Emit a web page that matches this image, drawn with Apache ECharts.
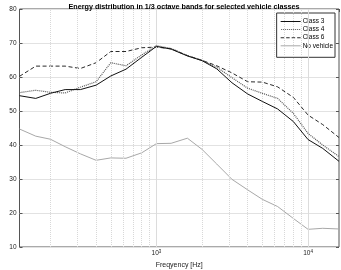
<!DOCTYPE html>
<html>
<head>
<meta charset="utf-8">
<script src="https://cdn.jsdelivr.net/npm/echarts@6/dist/echarts.min.js"></script>
<style>html,body{margin:0;padding:0;background:#fff}#c{width:341px;height:270px}</style>
</head>
<body>
<div id="c"></div>
<script>
const freqs = [125,160,200,250,315,400,500,630,800,1000,1250,1600,2000,2500,3150,4000,5000,6300,8000,10000,12500,16000];
const class3 = [54.5,53.7,55.2,56.3,56.3,57.6,60.3,62.3,65.8,69.0,68.2,66.2,64.8,62.4,58.3,55.0,52.8,50.6,46.9,41.6,39.0,35.2];
const class4 = [55.4,56.1,55.5,55.3,57.0,58.6,64.2,63.3,66.5,69.2,68.4,66.3,64.9,62.9,59.8,56.7,55.2,53.7,49.3,43.4,40.0,36.6];
const class6 = [60.2,63.2,63.2,63.2,62.5,64.2,67.5,67.5,68.6,68.8,68.3,66.3,64.9,63.3,61.2,58.6,58.5,57.1,54.0,48.8,46.0,42.2];
const noVehicle = [44.7,42.6,41.7,39.5,37.4,35.5,36.2,36.1,37.7,40.4,40.5,42.0,38.7,34.4,29.9,26.8,24.0,21.9,18.4,15.2,15.5,15.3];
const minorGrid = [200,300,400,500,600,700,800,900,2000,3000,4000,5000,6000,7000,8000,9000];
const majorGrid = [1000,10000];
const xTickLabels = {1000:'{a|10}{s|3}', 10000:'{a|10}{s|4}'};

const pair = arr => freqs.map((f,i)=>[f,arr[i]]);
const chart = echarts.init(document.getElementById('c'), null, {renderer:'canvas'});
const font = 'Liberation Sans, Arial, sans-serif';
// legend icon shapes (dotted / dashed line samples)
let dots = ''; for (let i = 0; i < 20; i += 2) dots += `M${i},0L${i+1},0L${i+1},1L${i},1Z`;
let dashes = ''; for (let i = 0; i < 20; i += 5.5) dashes += `M${i},0L${Math.min(i+3.5,20)},0L${Math.min(i+3.5,20)},1L${i},1Z`;
chart.setOption({
  animation:false,
  backgroundColor:'#fff',
  title:{text:'Energy distribution in 1/3 octave bands for selected vehicle classes',
    left:179, top:-1, textAlign:'center',
    textStyle:{fontFamily:font, fontSize:7.2, fontWeight:'bold', color:'#000'}},
  grid:{left:19.5, right:2, top:9, bottom:23, containLabel:false, outerBoundsMode:'none',
    show:true, borderColor:'#555', borderWidth:1, backgroundColor:'transparent'},
  legend:{orient:'vertical', right:6, top:13,
    data:[{name:'Class 3', icon:'path://M0,0L20,0L20,1L0,1Z'},
          {name:'Class 4', icon:'path://'+dots},
          {name:'Class 6', icon:'path://'+dashes},
          {name:'No vehicle', icon:'path://M0,0L20,0L20,1L0,1Z'}],
    itemWidth:20, itemHeight:1, itemGap:1.1, padding:[5,2,8,4],
    borderColor:'#333', borderWidth:1, backgroundColor:'#fff',
    textStyle:{fontFamily:font, fontSize:6.5, color:'#000', padding:[0,0,0,-3]}},
  xAxis:[{type:'log', logBase:10, min:125, max:16000,
    name:'Freqyency [Hz]', nameLocation:'middle', nameGap:7,
    nameTextStyle:{fontFamily:font, fontSize:7, color:'#222'},
    axisLine:{show:false}, splitLine:{show:false},
    axisTick:{show:true, inside:true, length:3, lineStyle:{color:'#555'}},
    axisLabel:{showMinLabel:false, showMaxLabel:false, margin:2,
      formatter:v=>{const l=Math.log10(v); if(Math.abs(l-3)<0.01) return xTickLabels[1000]; if(Math.abs(l-4)<0.01) return xTickLabels[10000]; return '';},
      rich:{a:{fontFamily:font, fontSize:6.5, color:'#222'}, s:{fontFamily:font, fontSize:4.5, color:'#222', verticalAlign:'top', padding:[0,0,4,0]}}}},
    {type:'log', logBase:10, min:125, max:16000, position:'top',
      axisLine:{show:false}, splitLine:{show:false}, axisLabel:{show:false},
      axisTick:{show:true, inside:true, length:3, lineStyle:{color:'#555'}}}],
  yAxis:[{type:'value', min:10, max:80, interval:10,
    name:'RMS [dB]', nameLocation:'middle', nameGap:8, nameRotate:90,
    nameTextStyle:{fontFamily:font, fontSize:7, color:'#222'},
    axisLine:{show:false},
    axisTick:{show:true, inside:true, length:3, lineStyle:{color:'#555'}},
    axisLabel:{fontFamily:font, fontSize:6.5, color:'#222', margin:3},
    splitLine:{show:true, lineStyle:{color:'#e2e2e2', width:1}}},
    {type:'value', min:10, max:80, interval:10, position:'right',
      axisLine:{show:false}, axisLabel:{show:false}, splitLine:{show:false},
      axisTick:{show:true, inside:true, length:3, lineStyle:{color:'#555'}}}],
  series:[
    {type:'line', name:'grid', data:[], silent:true, z:1,
      markLine:{silent:true, symbol:'none', label:{show:false}, animation:false,
        data:minorGrid.map(v=>({xAxis:v, lineStyle:{color:'#d8d8d8', type:[1,1], width:1}}))
          .concat(majorGrid.map(v=>({xAxis:v, lineStyle:{color:'#dcdcdc', type:'solid', width:1}})))}},
    {type:'line', name:'No vehicle', data:pair(noVehicle), symbol:'none', z:3,
      lineStyle:{color:'#a8a8a8', width:1}, itemStyle:{color:'#a8a8a8'}},
    {type:'line', name:'Class 6', data:pair(class6), symbol:'none', z:4,
      lineStyle:{color:'#2a2a2a', width:1, type:[4,2.5]}, itemStyle:{color:'#2a2a2a'}},
    {type:'line', name:'Class 4', data:pair(class4), symbol:'none', z:5,
      lineStyle:{color:'#555', width:1.2, type:[1,1]}, itemStyle:{color:'#555'}},
    {type:'line', name:'Class 3', data:pair(class3), symbol:'none', z:6,
      lineStyle:{color:'#111', width:1}, itemStyle:{color:'#111'}}
  ]
});
</script>
</body>
</html>
